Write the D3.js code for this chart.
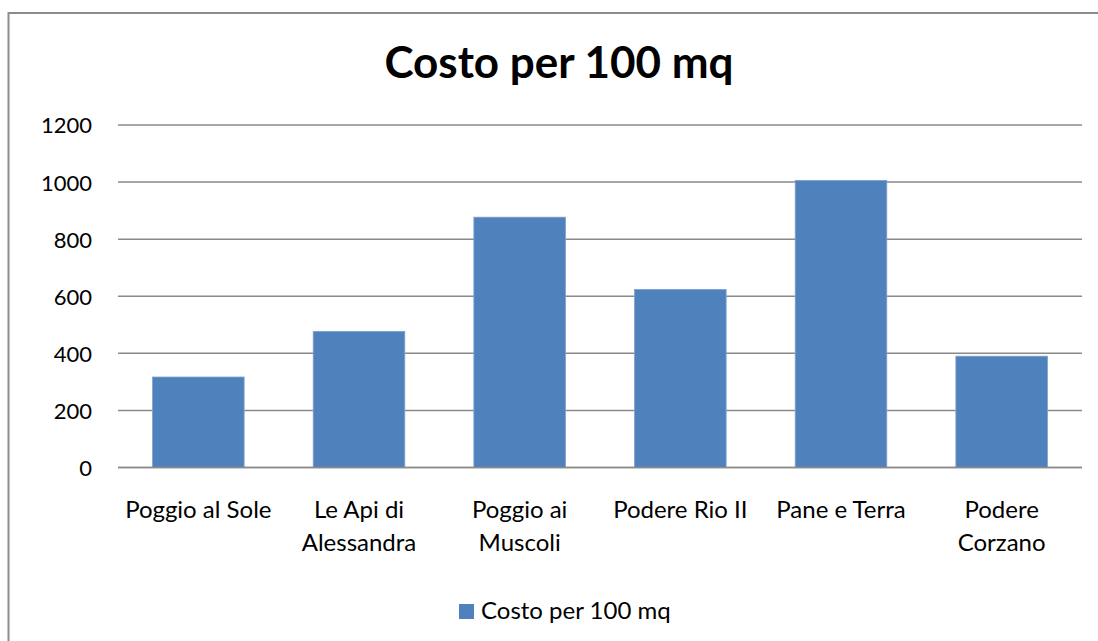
<!DOCTYPE html>
<html>
<head>
<meta charset="utf-8">
<script src="https://cdn.jsdelivr.net/npm/d3@7/dist/d3.min.js"></script>
<style>
  html, body { margin: 0; padding: 0; background: #fff; }
  svg { display: block; }
  text { font-family: Lato, "Open Sans", sans-serif; fill: #000; }
</style>
</head>
<body>
<svg id="chart" width="1098" height="641"></svg>
<script>
// ---- data ----
const categories = ["Poggio al Sole", "Le Api di Alessandra", "Poggio ai Muscoli", "Podere Rio II", "Pane e Terra", "Podere Corzano"];
const categoryLines = [["Poggio al Sole"], ["Le Api di", "Alessandra"], ["Poggio ai", "Muscoli"], ["Podere Rio II"], ["Pane e Terra"], ["Podere", "Corzano"]];
const values = [317, 477, 877, 624, 1006, 390];
const yTicks = [0, 200, 400, 600, 800, 1000, 1200];
const seriesName = "Costo per 100 mq";
const chartTitle = "Costo per 100 mq";

// ---- layout ----
const svg = d3.select("#chart");
const W = 1098, H = 641;
const plot = { left: 118, right: 1082, top: 125, bottom: 467.5 };

// outer border
svg.append("rect")
  .attr("x", 8.5).attr("y", 13).attr("width", W + 10).attr("height", H + 10)
  .attr("fill", "none").attr("stroke", "#8c8c8c").attr("stroke-width", 2);

const x = d3.scaleBand().domain(categories).range([plot.left, plot.right])
  .paddingInner(0.43).paddingOuter(0.215);
const y = d3.scaleLinear().domain([0, 1200]).range([plot.bottom, plot.top]);

// gridlines
svg.append("g").selectAll("line").data(yTicks).join("line")
  .attr("x1", plot.left).attr("x2", plot.right)
  .attr("y1", d => y(d)).attr("y2", d => y(d))
  .attr("stroke", "#8a8a8a").attr("stroke-width", 1.5);

// y axis labels
const yAxis = d3.axisLeft(y).tickValues(yTicks).tickSize(0).tickPadding(0).tickFormat(d3.format("d"));
const gy = svg.append("g").attr("transform", `translate(${plot.left - 26},0)`).call(yAxis);
gy.select(".domain").remove();
gy.selectAll("text").attr("font-size", 22).attr("font-family", "Lato, sans-serif").attr("fill", "#000").attr("dy", "0.36em");

// bars
svg.append("g").selectAll("rect").data(values).join("rect")
  .attr("x", (d, i) => x(categories[i]))
  .attr("width", x.bandwidth())
  .attr("y", d => y(d))
  .attr("height", d => y(0) - y(d))
  .attr("fill", "#4f81bd")
  .attr("stroke", "#7ea0d2").attr("stroke-width", 0.8);

// baseline redraw on top
svg.append("line").attr("x1", plot.left).attr("x2", plot.right)
  .attr("y1", y(0)).attr("y2", y(0)).attr("stroke", "#8a8a8a").attr("stroke-width", 1.5);

// category labels
const gx = svg.append("g");
categories.forEach((c, i) => {
  const cx = x(c) + x.bandwidth() / 2;
  const t = gx.append("text").attr("text-anchor", "middle").attr("font-size", 24);
  categoryLines[i].forEach((ln, j) => {
    t.append("tspan").attr("x", cx).attr("y", 518 + j * 33).text(ln);
  });
});

// title
svg.append("text").attr("x", 559).attr("y", 78).attr("text-anchor", "middle")
  .attr("font-size", 44).attr("font-weight", "bold").text(chartTitle);

// legend
const lg = svg.append("g");
lg.append("rect").attr("x", 459).attr("y", 604).attr("width", 15).attr("height", 15).attr("fill", "#4f81bd");
lg.append("text").attr("x", 481).attr("y", 619).attr("font-size", 24).text(seriesName);
</script>
</body>
</html>
